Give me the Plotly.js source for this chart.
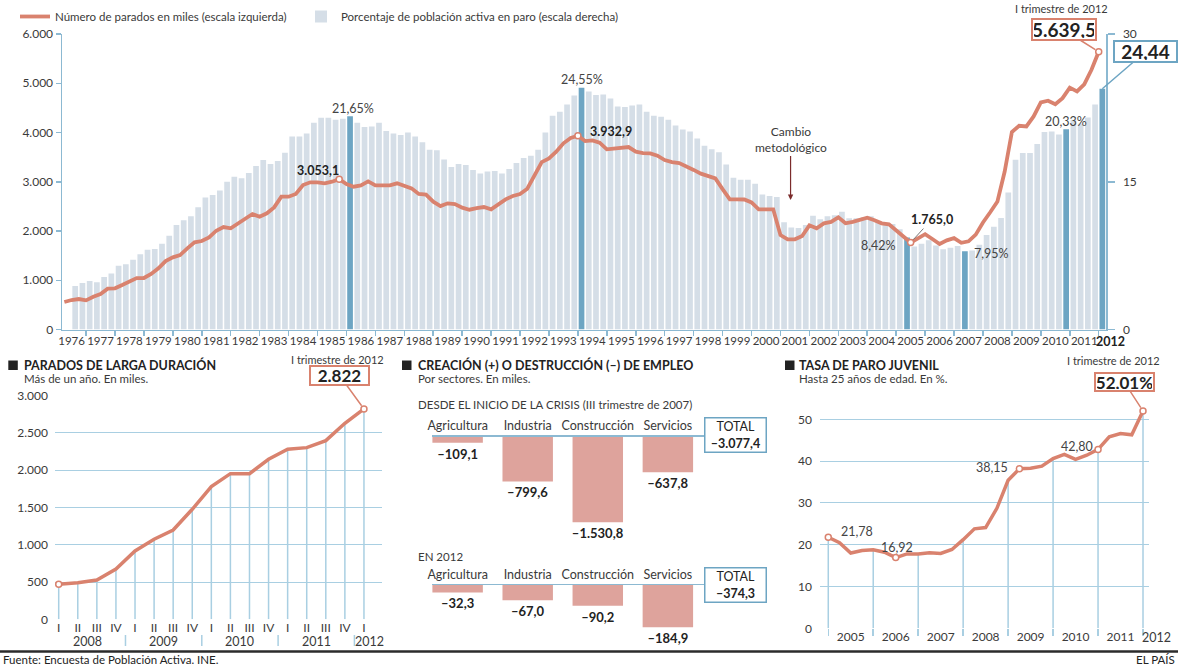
<!DOCTYPE html>
<html><head><meta charset="utf-8">
<script src="https://cdn.plot.ly/plotly-3.0.1.min.js"></script>
<style>html,body{margin:0;padding:0;background:#fff;}#chart{width:1178px;height:666px;}</style>
</head><body><div id="chart"></div>
<script>
// ================= DATA =================
// Main chart: unemployed (thousands, left scale), quarterly, starting 1976 Q2
const lineStart = [1976, 2];
const parados = [
  558, 599, 619,
  592, 666, 721, 829,
  836, 903, 971, 1045,
  1045, 1127, 1242, 1390,
  1465, 1512, 1648, 1770,
  1797, 1871, 2006, 2081,
  2054, 2156, 2263, 2345,
  2290, 2360, 2480, 2696,
  2696, 2751, 2933, 2988,
  2988, 2968, 3001, 3053.1,
  2954, 2900, 2927, 3008,
  2927, 2927, 2927, 2968,
  2927, 2866, 2751, 2737,
  2595, 2507, 2562, 2548,
  2473, 2432, 2465, 2487,
  2440, 2541, 2643, 2710,
  2751, 2859, 3136, 3400,
  3475, 3610, 3780, 3888,
  3932.9, 3827, 3841, 3793,
  3658, 3671, 3685, 3705,
  3610, 3583, 3577, 3529,
  3441, 3400, 3380, 3320,
  3240, 3165, 3115, 3069,
  2850, 2643, 2643, 2640,
  2580, 2440, 2440, 2440,
  1918, 1831, 1831, 1898,
  2115, 2054, 2156, 2185,
  2277, 2156, 2185, 2230,
  2270, 2220, 2156, 2135,
  2020, 1890, 1765.0, 1841,
  1935, 1837, 1737, 1810,
  1856, 1760, 1791, 1927,
  2174, 2381, 2599, 3208,
  4010, 4137, 4123, 4326,
  4612, 4646, 4575, 4697,
  4910, 4834, 4978, 5274,
  5639.5
];
// Main chart: unemployment rate (% , right scale), quarterly, starting 1976 Q3
const barStart = [1976, 3];
const tasaParo = [
  4.42, 4.73,
  4.93, 4.80, 5.34, 5.68,
  6.46, 6.63, 7.07, 7.65,
  8.09, 8.16, 8.70, 9.51,
  10.6, 11.1, 11.5, 12.4,
  13.4, 13.65, 14.1, 15.0,
  15.5, 15.35, 15.9, 16.6,
  17.2, 16.8, 17.1, 17.95,
  19.6, 19.6, 19.9, 21.0,
  21.5, 21.5, 21.3, 21.4,
  21.65, 21.0, 20.55, 20.6,
  21.0, 20.15, 19.9, 19.75,
  20.0, 19.6, 19.0, 18.25,
  18.2, 17.25, 16.5, 16.8,
  16.7, 16.2, 15.85, 16.05,
  16.1, 15.85, 16.3, 16.9,
  17.4, 17.65, 18.25, 20.0,
  21.7, 22.1, 22.85, 23.75,
  24.55, 24.15, 23.8, 23.85,
  23.45, 22.65, 22.6, 22.75,
  22.85, 22.1, 21.7, 21.6,
  21.3, 20.7, 20.3, 20.1,
  19.4, 18.65, 18.3, 18.0,
  16.75, 15.4, 15.2, 15.2,
  14.8, 13.7, 13.55, 13.45,
  10.9, 10.35, 10.3, 10.6,
  11.55, 11.2, 11.5, 11.6,
  11.95, 11.3, 11.3, 11.4,
  11.5, 10.95, 10.85, 10.7,
  10.19, 9.33, 8.42, 8.70,
  9.07, 8.53, 8.15, 8.30,
  8.47, 7.95, 8.03, 8.60,
  9.60, 10.44, 11.33, 13.91,
  17.24, 17.92, 17.93, 18.83,
  20.05, 20.09, 19.79, 20.33,
  21.29, 20.89, 21.52, 22.85,
  24.44
];
const yearTicks = ['1976','1977','1978','1979','1980','1981','1982','1983','1984','1985','1986','1987',
  '1988','1989','1990','1991','1992','1993','1994','1995','1996','1997','1998','1999',
  '2000','2001','2002','2003','2004','2005','2006','2007','2008','2009','2010','2011'];
const highlightBars = ['1986-1','1994-1','2005-2','2007-2','2010-4','2012-1'];
const pctLabels = [['1986-1','21,65%'],['1994-1','24,55%'],['2005-2','8,42%'],['2007-2','7,95%'],['2010-4','20,33%']];
const markedLine = ['1985-4','1994-1','2005-3','2012-1'];

// Long-term unemployed (thousands), 2008 I .. 2012 I
const ltuQuarters = ['I','II','III','IV','I','II','III','IV','I','II','III','IV','I','II','III','IV','I'];
const ltuYears = ['2008','2009','2010','2011','2012'];
const ltuValues = [470, 491, 527, 675, 917, 1074, 1198, 1476, 1780, 1954, 1954, 2147, 2281, 2303, 2397, 2630, 2822];

// Job creation/destruction by sector (thousands)
const sectores = ['Agricultura','Industria','Construcción','Servicios'];
const empleoCrisis = [-109.1, -799.6, -1530.8, -637.8];
const totalCrisis = -3077.4;
const empleo2012 = [-32.3, -67.0, -90.2, -184.9];
const total2012 = -374.3;

// Youth unemployment rate (%), 2005 Q1 .. 2012 Q1
const juvStart = [2005, 1];
const juvenil = [
  21.78, 20.5, 18.0, 18.6,
  18.8, 18.2, 16.92, 17.8,
  17.8, 18.1, 17.9, 18.85,
  21.2, 23.8, 24.1, 28.7,
  35.4, 38.15, 38.3, 38.8,
  40.6, 41.6, 40.4, 41.4,
  42.80, 45.8, 46.6, 46.3,
  52.01
];
const juvYears = ['2005','2006','2007','2008','2009','2010','2011'];
const juvLabeled = [0, 6, 17, 24];

// ================= HELPERS =================
const W = 1178, H = 666;
const px = x => x / W, py = y => 1 - y / H;
const F = 'Lato, "Open Sans", Arial, sans-serif';
const SALMON = '#d9826e', LIGHTBAR = '#d5dee7', HIBAR = '#6da5c3', AXIS = '#8cb9d2',
      GRID = '#a9cfe2', PINK = '#dea39c', TXT = '#3a3a3a';

function esNum(v, d) {
  const s = Math.abs(v).toFixed(d);
  let [i, f] = s.split('.');
  i = i.replace(/\B(?=(\d{3})+(?!\d))/g, '.');
  return (v < 0 ? '–' : '') + i + (f ? ',' + f : '');
}
const qx = (start, i) => start[0] + (start[1] - 1 + i) / 4;
const qkey = (start, i) => { const k = start[1] - 1 + i; return (start[0] + Math.floor(k / 4)) + '-' + (k % 4 + 1); };

const lineX = parados.map((_, i) => qx(lineStart, i));
const lineKeys = parados.map((_, i) => qkey(lineStart, i));
const barX = tasaParo.map((_, i) => qx(barStart, i) + 0.125);
const barKeys = tasaParo.map((_, i) => qkey(barStart, i));
const barColors = barKeys.map(k => highlightBars.includes(k) ? HIBAR : LIGHTBAR);
const li = k => lineKeys.indexOf(k), bi = k => barKeys.indexOf(k);

const juvX = juvenil.map((_, i) => qx(juvStart, i));

// ================= TRACES =================
const traces = [];
traces.push({type:'bar', x:barX, y:tasaParo, xaxis:'x', yaxis:'y', width:0.197, legend:'legend2',
  marker:{color:barColors, line:{width:0}}, name:'Porcentaje de población activa en paro (escala derecha)',
  hoverinfo:'skip'});
traces.push({type:'scatter', mode:'lines', x:lineX, y:parados, xaxis:'x', yaxis:'y2',
  line:{color:SALMON, width:3.8}, name:'Número de parados en miles (escala izquierda)',
  cliponaxis:false, hoverinfo:'skip'});
traces.push({type:'scatter', mode:'markers', x:markedLine.map(k => lineX[li(k)]), y:markedLine.map(k => parados[li(k)]),
  xaxis:'x', yaxis:'y2', marker:{size:6, color:'#fff', line:{color:SALMON, width:1.5}}, showlegend:false, cliponaxis:false, hoverinfo:'skip'});

// Long-term unemployed
const ltuIdx = ltuValues.map((_, i) => i);
const ltuDropX = [], ltuDropY = [];
ltuValues.forEach((v, i) => { ltuDropX.push(i, i, null); ltuDropY.push(0, v, null); });
traces.push({type:'scatter', mode:'lines', x:ltuDropX, y:ltuDropY, xaxis:'x2', yaxis:'y3',
  line:{color:GRID, width:1.5}, showlegend:false, hoverinfo:'skip'});
traces.push({type:'scatter', mode:'lines', x:ltuIdx, y:ltuValues, xaxis:'x2', yaxis:'y3',
  line:{color:SALMON, width:3.5}, showlegend:false, cliponaxis:false, hoverinfo:'skip'});
traces.push({type:'scatter', mode:'markers', x:[0, ltuValues.length - 1], y:[ltuValues[0], ltuValues[ltuValues.length - 1]],
  xaxis:'x2', yaxis:'y3', marker:{size:6, color:'#fff', line:{color:SALMON, width:1.5}}, showlegend:false, cliponaxis:false, hoverinfo:'skip'});

// Sectors
traces.push({type:'bar', x:sectores, y:empleoCrisis, xaxis:'x3', yaxis:'y4', width:0.72,
  marker:{color:PINK}, text:empleoCrisis.map(v => esNum(v, 1)), textposition:'outside', constraintext:'none',
  textfont:{family:F, size:13, color:'#222', weight:700}, cliponaxis:false, showlegend:false, hoverinfo:'skip'});
traces.push({type:'bar', x:sectores, y:empleo2012, xaxis:'x4', yaxis:'y5', width:0.72,
  marker:{color:PINK}, text:empleo2012.map(v => esNum(v, 1)), textposition:'outside', constraintext:'none',
  textfont:{family:F, size:13, color:'#222', weight:700}, cliponaxis:false, showlegend:false, hoverinfo:'skip'});

// Youth
const juvDropX = [], juvDropY = [];
juvenil.forEach((v, i) => { if (i % 4 === 0) { juvDropX.push(juvX[i], juvX[i], null); juvDropY.push(0, v, null); } });
traces.push({type:'scatter', mode:'lines', x:juvDropX, y:juvDropY, xaxis:'x5', yaxis:'y6',
  line:{color:GRID, width:1.5}, showlegend:false, hoverinfo:'skip'});
traces.push({type:'scatter', mode:'lines', x:juvX, y:juvenil, xaxis:'x5', yaxis:'y6',
  line:{color:SALMON, width:3.5}, showlegend:false, cliponaxis:false, hoverinfo:'skip'});
const juvMarked = juvLabeled.concat([juvenil.length - 1]);
traces.push({type:'scatter', mode:'markers', x:juvMarked.map(i => juvX[i]), y:juvMarked.map(i => juvenil[i]),
  xaxis:'x5', yaxis:'y6', marker:{size:6, color:'#fff', line:{color:SALMON, width:1.5}}, showlegend:false, cliponaxis:false, hoverinfo:'skip'});

// ================= ANNOTATIONS =================
const ann = [];
const txt = (text, x, y, o = {}) => ann.push(Object.assign({text, x, y, xref:'paper', yref:'paper', showarrow:false,
  xanchor:'center', yanchor:'middle', font:{family:F, size:11.5, color:TXT}}, o));
const boxBase = (color, size, w, h) => ({showarrow:true, arrowhead:0, arrowwidth:1.5, arrowcolor:color,
  bordercolor:color, borderwidth:2, borderpad:1, bgcolor:'#fff', width:w, height:h, font:{family:F, size:size, color:'#222'}});

// main chart labels
pctLabels.forEach(([k, t]) => {
  const i = bi(k);
  const o = {xref:'x', font:{family:F, size:12.5, color:'#444'}};
  if (k === '1986-1') txt(t, barX[i], py(108), Object.assign(o, {xshift:3}));
  if (k === '1994-1') txt(t, barX[i], py(80), o);
  if (k === '2005-2') txt(t, barX[i], py(245), Object.assign(o, {xanchor:'right', xshift:-9}));
  if (k === '2007-2') txt(t, barX[i], py(254), Object.assign(o, {xanchor:'left', xshift:7}));
  if (k === '2010-4') txt(t, barX[i], py(122), o);
});
txt('<b>' + esNum(parados[li('1985-4')], 1) + '</b>', lineX[li('1985-4')], py(170), {xref:'x', xanchor:'right', xshift:2, font:{family:F, size:12.5, color:'#222'}});
txt('<b>' + esNum(parados[li('1994-1')], 1) + '</b>', lineX[li('1994-1')], py(131.7), {xref:'x', xanchor:'left', xshift:10, font:{family:F, size:12.5, color:'#222'}});
ann.push({text:'<b>' + esNum(parados[li('2005-3')], 1) + '</b>', x:lineX[li('2005-3')], y:parados[li('2005-3')], xref:'x', yref:'y2',
  showarrow:true, ax:21, ay:-23, arrowhead:0, arrowwidth:1, arrowcolor:'#777', standoff:4, font:{family:F, size:12.5, color:'#222'}});
ann.push({text:'Cambio<br>metodológico', x:2001.35, y:py(200), xref:'x', yref:'paper', showarrow:true, ax:0, ay:-61,
  arrowhead:2, arrowsize:0.9, arrowwidth:1.2, arrowcolor:'#7b2c2c', font:{family:F, size:12, color:TXT}});
txt('I trimestre de 2012', px(1061), py(9), {font:{family:F, size:11, color:TXT}});
ann.push(Object.assign(boxBase(SALMON, 19, 60, 17), {text:'<b>' + esNum(parados[parados.length - 1], 1) + '</b>',
  x:lineX[lineX.length - 1], y:parados[parados.length - 1], xref:'x', yref:'y2', ax:-35, ay:-22, standoff:4}));
ann.push(Object.assign(boxBase(HIBAR, 19, 59, 17), {text:'<b>' + esNum(tasaParo[tasaParo.length - 1], 2) + '</b>',
  x:barX[barX.length - 1], y:tasaParo[tasaParo.length - 1], xref:'x', yref:'y', ax:43, ay:-37, standoff:0}));
txt('<b>2012</b>', px(1110), py(341.5), {font:{family:F, size:12.5, color:'#222'}});

// panel 1
txt('<b>PARADOS DE LARGA DURACIÓN</b>', px(22), py(365), {xanchor:'left', font:{family:F, size:12.5, color:'#222'}});
txt('Más de un año. En miles.', px(22), py(378.5), {xanchor:'left'});
txt('I trimestre de 2012', px(337.5), py(359.3), {font:{family:F, size:11, color:TXT}});
ann.push(Object.assign(boxBase(SALMON, 17, 55, 15), {text:'<b>' + esNum(ltuValues[ltuValues.length - 1], 0) + '</b>',
  x:ltuValues.length - 1, y:ltuValues[ltuValues.length - 1], xref:'x2', yref:'y3', ax:-24, ay:-33, standoff:4}));
ltuYears.forEach((y, j) => txt(y, j < 4 ? j * 4 + 1.5 : 16.3, py(641), {xref:'x2', font:{family:F, size:12.5, color:TXT}}));

// panel 2
txt('<b>CREACIÓN (+) O DESTRUCCIÓN (–) DE EMPLEO</b>', px(415.7), py(365), {xanchor:'left', font:{family:F, size:12.5, color:'#222'}});
txt('Por sectores. En miles.', px(415.7), py(378.5), {xanchor:'left'});
txt('DESDE EL INICIO DE LA CRISIS (III trimestre de 2007)', px(415.7), py(404), {xanchor:'left'});
txt('EN 2012', px(415.7), py(556.7), {xanchor:'left'});
txt('TOTAL<br><b>' + esNum(totalCrisis, 1) + '</b>', px(735.2), py(435), {bordercolor:HIBAR, borderwidth:1.5, borderpad:1, width:58, height:31, bgcolor:'#fff', font:{family:F, size:12.5, color:'#222'}});
txt('TOTAL<br><b>' + esNum(total2012, 1) + '</b>', px(735.2), py(584.5), {bordercolor:HIBAR, borderwidth:1.5, borderpad:1, width:58, height:31, bgcolor:'#fff', font:{family:F, size:12.5, color:'#222'}});

// panel 3
txt('<b>TASA DE PARO JUVENIL</b>', px(796.7), py(365), {xanchor:'left', font:{family:F, size:12.5, color:'#222'}});
txt('Hasta 25 años de edad. En %.', px(796.7), py(378.5), {xanchor:'left'});
txt('I trimestre de 2012', px(1113.3), py(360), {font:{family:F, size:11, color:TXT}});
const jl = juvenil.length - 1;
ann.push(Object.assign(boxBase(SALMON, 17, 55, 14), {text:'<b>' + esNum(juvenil[jl], 2) + '%</b>',
  x:juvX[jl], y:juvenil[jl], xref:'x5', yref:'y6', ax:-19, ay:-29, standoff:4}));
const juvOpts = [{xanchor:'left', xshift:11, yshift:6}, {xshift:1, yshift:10}, {xanchor:'right', xshift:-9, yshift:1}, {xanchor:'right', xshift:-3, yshift:3}];
juvLabeled.forEach((i, j) => ann.push(Object.assign({text:esNum(juvenil[i], 2), x:juvX[i], y:juvenil[i], xref:'x5', yref:'y6',
  showarrow:false, xanchor:'center', yanchor:'middle', font:{family:F, size:12.5, color:'#444'}}, juvOpts[j])));
txt('2012', px(1156.7), py(637.5), {font:{family:F, size:12.5, color:TXT}});

// footer
txt('Fuente: Encuesta de Población Activa. INE.', px(1), py(659.5), {xanchor:'left', font:{family:F, size:11.5, color:'#222'}});
txt('EL PAÍS', px(1177), py(659.5), {xanchor:'right', font:{family:F, size:11.5, color:'#222'}});

// ================= SHAPES =================
const shapes = [];
[[8.3, 360.5], [402, 360.5], [785, 360.5]].forEach(([x, y]) => shapes.push({type:'rect', xref:'paper', yref:'paper',
  x0:px(x), x1:px(x + 9.5), y0:py(y + 9.5), y1:py(y), fillcolor:'#222', line:{width:0}}));
[3.5, 7.5, 11.5, 15.5].forEach(x => shapes.push({type:'line', xref:'x2', yref:'paper', x0:x, x1:x, y0:py(646), y1:py(635), line:{color:GRID, width:1.5}}));
shapes.push({type:'line', xref:'paper', yref:'paper', x0:0, x1:1, y0:py(651.5), y1:py(651.5), line:{color:'#2b2b2b', width:2.5}});

// ================= LAYOUT =================
const tf = {family:F, size:12, color:TXT};
const legendBase = {orientation:'h', xanchor:'left', yanchor:'top', font:{family:F, size:11.5, color:TXT}, bgcolor:'rgba(0,0,0,0)'};
const layout = {
  width:W, height:H, margin:{l:0, r:0, t:0, b:0}, paper_bgcolor:'#fff', plot_bgcolor:'rgba(0,0,0,0)',
  font:{family:F, color:TXT}, separators:',.', showlegend:true, barmode:'overlay',
  legend:Object.assign({x:px(15), y:py(2)}, legendBase),
  legend2:Object.assign({x:px(301), y:py(2)}, legendBase),
  xaxis:{domain:[px(62), px(1106)], range:[1976.169, 2012.252], anchor:'y', showline:true, linecolor:AXIS, linewidth:1.5,
    showgrid:false, zeroline:false, tickmode:'array', tickvals:yearTicks.map(y => +y + 0.5), ticktext:yearTicks, ticks:'',
    tickangle:0, tickfont:{family:F, size:11.5, color:TXT},
    minor:{tick0:1976, dtick:1, ticks:'outside', ticklen:5, tickwidth:1.5, tickcolor:AXIS, showgrid:false}},
  yaxis:{domain:[py(329.5), py(34)], range:[0, 30], side:'right', anchor:'x', tickmode:'array', tickvals:[0, 15, 30],
    ticks:'outside', ticklen:7, tickwidth:1.5, tickcolor:AXIS, showline:true, linecolor:AXIS, linewidth:1.5,
    showgrid:false, zeroline:false, tickfont:tf, ticklabelstandoff:6},
  yaxis2:{overlaying:'y', side:'left', anchor:'x', range:[0, 6000], tickmode:'array', tickvals:[0, 1000, 2000, 3000, 4000, 5000, 6000],
    tickformat:',d', ticks:'outside', ticklen:5, tickwidth:1.5, tickcolor:AXIS, showline:true, linecolor:AXIS, linewidth:1.5,
    showgrid:false, zeroline:false, tickfont:tf},
  xaxis2:{domain:[px(55), px(381.7)], range:[-0.194, 16.93], anchor:'y3', tickmode:'array', tickvals:ltuIdx, ticktext:ltuQuarters,
    ticks:'', tickangle:0, showgrid:false, zeroline:false, showline:false, tickfont:tf},
  yaxis3:{domain:[py(619.3), py(395.7)], range:[0, 3000], anchor:'x2', tickmode:'array', tickvals:[0, 500, 1000, 1500, 2000, 2500, 3000],
    tickformat:',d', showgrid:true, gridcolor:GRID, gridwidth:1, zeroline:false, ticks:'', ticklabelstandoff:6, tickfont:tf},
  xaxis3:{domain:[px(431.7), px(705)], type:'category', range:[-0.37, 3.53], anchor:'y4', side:'top', showline:true,
    linecolor:AXIS, linewidth:1.5, ticks:'', tickangle:0, showgrid:false, zeroline:false, tickfont:{family:F, size:12.5, color:TXT}},
  yaxis4:{domain:[py(528.9), py(436.7)], range:[-1650, 0], anchor:'x3', visible:false},
  xaxis4:{domain:[px(431.7), px(705)], type:'category', range:[-0.37, 3.53], anchor:'y5', side:'top', showline:true,
    linecolor:AXIS, linewidth:1.5, ticks:'', tickangle:0, showgrid:false, zeroline:false, tickfont:{family:F, size:12.5, color:TXT}},
  yaxis5:{domain:[py(630.8), py(585)], range:[-200, 0], anchor:'x4', visible:false},
  xaxis5:{domain:[px(820), px(1149.3)], range:[2004.816, 2012.14], anchor:'y6', tickmode:'array',
    tickvals:juvYears.map(y => +y + 0.5), ticktext:juvYears, ticks:'', tickangle:0, showgrid:false, zeroline:false, showline:false,
    tickfont:tf, minor:{tick0:2005, dtick:1, ticks:'outside', ticklen:7, tickwidth:1.5, tickcolor:GRID, showgrid:false}},
  yaxis6:{domain:[py(628.3), py(628.3 - 55 * 4.18)], range:[0, 55], anchor:'x5', tickmode:'array', tickvals:[0, 10, 20, 30, 40, 50],
    showgrid:true, gridcolor:GRID, gridwidth:1, zeroline:false, ticks:'', ticklabelstandoff:7, tickfont:tf},
  annotations:ann, shapes:shapes
};
Plotly.newPlot('chart', traces, layout, {staticPlot:true, displayModeBar:false});
</script></body></html>
